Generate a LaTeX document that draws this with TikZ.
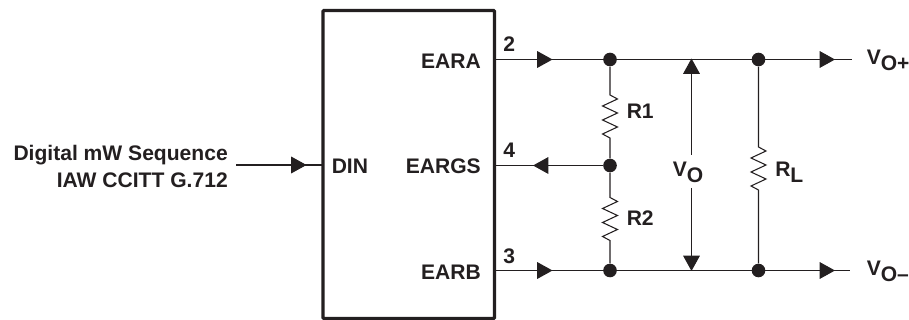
\documentclass[tikz,border=0pt]{standalone}
\usepackage{fontspec}
\setmainfont{Liberation Sans}[BoldFont={Liberation Sans Bold}]
\usetikzlibrary{arrows.meta}
\definecolor{ink}{HTML}{231F20}
\newcommand{\vsub}[2]{#1\raisebox{-4.5pt}{#2}}
\tikzset{
  x=0.75pt,y=-0.75pt,
  wire/.style={draw=ink,line width=0.8pt},
  headwire/.style={draw=ink,line width=0.8pt,-{Triangle[length=11.5pt,width=12.5pt,fill=ink]}},
  chipbox/.style={draw=ink,line width=2.4pt,inner sep=0pt,outer sep=0pt,rounded corners=0.6pt},
  lab/.style={text=ink,font=\bfseries\fontsize{15.8}{18}\selectfont,inner sep=0pt},
  dotnode/.style={circle,fill=ink,draw=none,inner sep=0pt,minimum size=10.2pt},
}
\begin{document}
\begin{tikzpicture}
\useasboundingbox (0,0) rectangle (909,320);
% chip
\node[chipbox,minimum width=128.6pt,minimum height=231pt,anchor=north west] (chip) at (323,10.5) {};
% coordinates on the chip
\coordinate (din) at (323,165);
\coordinate (pa) at (494.5,59.5);
\coordinate (pg) at (494.5,165.5);
\coordinate (pb) at (494.5,270.5);
\coordinate (start) at (236,165);
\coordinate (enda) at (852,59.5);
\coordinate (endb) at (850,270.5);
% junctions
\node[dotnode] (j1) at (610,59.5) {};
\node[dotnode] (j2) at (610,165.5) {};
\node[dotnode] (j3) at (610,270.5) {};
\node[dotnode] (j4) at (758.5,59.5) {};
\node[dotnode] (j5) at (758.5,270.5) {};
% wires
\draw[wire] (start) -- (din);
\draw[wire] (pa) -- (enda);
\draw[wire] (pg) -- (j2);
\draw[wire] (pb) -- (endb);
% arrowheads
\coordinate (t1) at (306.5,165);
\coordinate (t2) at (552.5,59.5);
\coordinate (t3) at (533,165.5);
\coordinate (t4) at (552.5,270.5);
\coordinate (t5) at (835,59.5);
\coordinate (t6) at (835,270.5);
\draw[headwire] (start) -- (t1);
\draw[headwire] (pa) -- (t2);
\draw[headwire] (j2) -- (t3);
\draw[headwire] (pb) -- (t4);
\draw[headwire] (j4) -- (t5);
\draw[headwire] (j5) -- (t6);
% resistors
\coordinate (r1a) at (610,95);
\coordinate (r1b) at (610,138);
\coordinate (r2a) at (610,197.5);
\coordinate (r2b) at (610,240.5);
\coordinate (rla) at (758.5,147);
\coordinate (rlb) at (758.5,190);
\draw[wire] (j1) -- (r1a) -- ++(7.5,4) -- ++(-15,7) -- ++(15,7) -- ++(-15,7) -- ++(15,7) -- ++(-15,7) -- (r1b) -- (j2);
\draw[wire] (j2) -- (r2a) -- ++(7.5,4) -- ++(-15,7) -- ++(15,7) -- ++(-15,7) -- ++(15,7) -- ++(-15,7) -- (r2b) -- (j3);
\draw[wire] (j4) -- (rla) -- ++(7.5,4) -- ++(-15,7) -- ++(15,7) -- ++(-15,7) -- ++(15,7) -- ++(-15,7) -- (rlb) -- (j5);
% VO arrow
\coordinate (vt) at (691.5,58.5);
\coordinate (vb) at (691.5,271);
\node[lab,anchor=base west] (vo) at (672.5,177) {\vsub{V}{O}};
\coordinate (vu) at (691.5,155);
\coordinate (vd) at (691.5,188);
\draw[headwire] (vu) -- (vt);
\draw[headwire] (vd) -- (vb);
% labels
\node[lab,anchor=base east] (seqa) at (228,161) {Digital mW Sequence};
\node[lab,anchor=base east] (seqb) at (228,188) {IAW CCITT G.712};
\node[lab,anchor=base west] (ldin) at (331.5,174) {DIN};
\node[lab,anchor=base east] (lea) at (481,68.5) {EARA};
\node[lab,anchor=base east] (leg) at (481,174) {EARGS};
\node[lab,anchor=base east] (leb) at (481,279.5) {EARB};
\node[lab,anchor=base west] (n2) at (503,52) {2};
\node[lab,anchor=base west] (n4) at (503,158) {4};
\node[lab,anchor=base west] (n3) at (503,263) {3};
\node[lab,anchor=base west] (lr1) at (626.5,119) {R1};
\node[lab,anchor=base west] (lr2) at (626.5,225) {R2};
\node[lab,anchor=base west] (lrl) at (775,177) {\vsub{R}{L}};
\node[lab,anchor=base west] (vp) at (866.5,65) {\vsub{V}{O+}};
\node[lab,anchor=base west] (vm) at (866.5,275) {\vsub{V}{O--}};
\end{tikzpicture}
\end{document}
